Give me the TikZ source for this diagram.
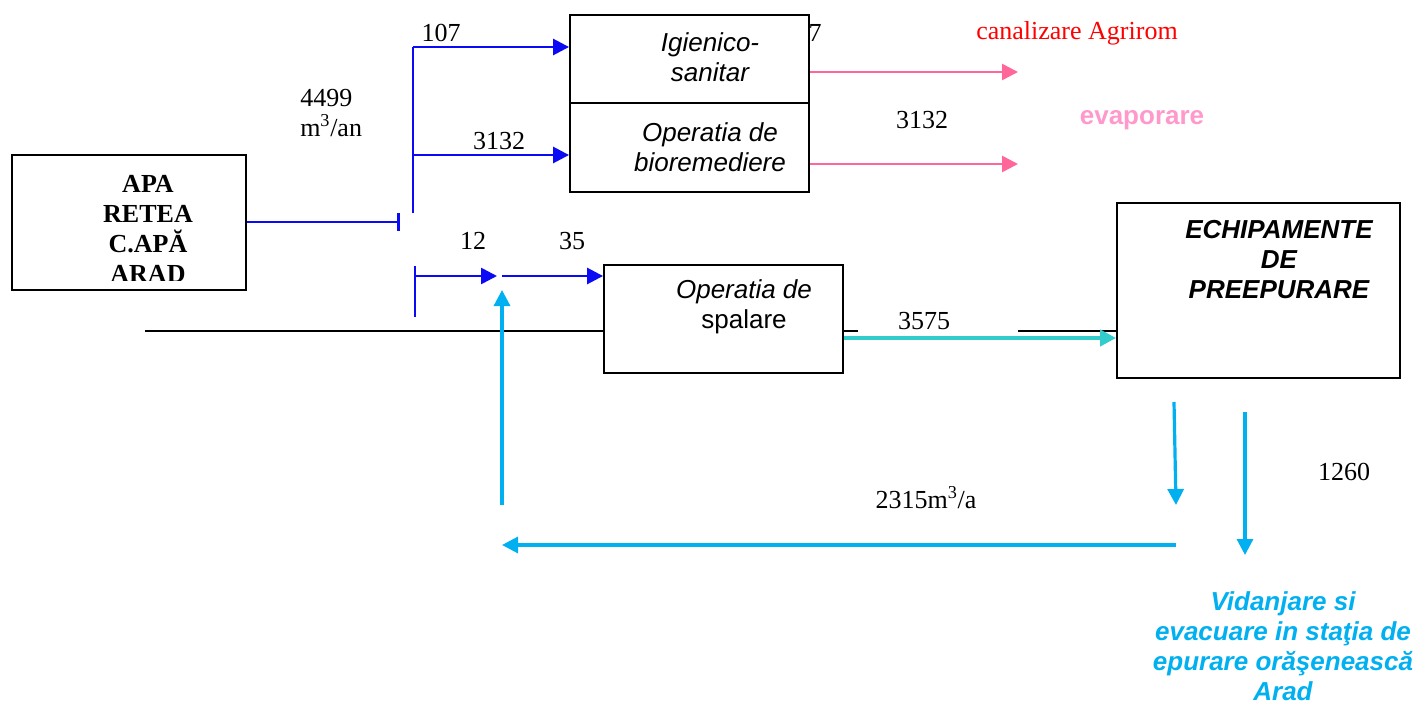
\documentclass[tikz,border=0pt]{standalone}
\usepackage{fontspec}
\setmainfont{Liberation Serif}
\setsansfont{Liberation Sans}
\usetikzlibrary{arrows.meta,positioning,calc}
\definecolor{flowblue}{HTML}{0A0AF5}
\definecolor{flowpink}{HTML}{FF6699}
\definecolor{flowcyan}{HTML}{00B0F0}
\definecolor{flowteal}{HTML}{33CCCC}
\definecolor{softpink}{HTML}{FF99CC}

\begin{document}
\begin{tikzpicture}[x=0.75pt,y=-0.75pt,
  box/.style={draw=black,line width=1.4pt,inner sep=0pt},
  lbl/.style={font=\fontsize{19.5}{22.5}\selectfont,inner sep=0pt},
  txt/.style={font=\sffamily\itshape\fontsize{19.5}{22.5}\selectfont,align=center,inner sep=0pt},
  arr/.style={-{Triangle[length=12pt,width=12pt]},line width=2pt,color=flowblue},
  pink/.style={arr,color=flowpink},
  cyan/.style={arr,line width=2.4pt,color=flowcyan},
  feed/.style={line width=2pt,color=flowblue}]
\path[fill=white] (0,0) rectangle (1421,706);
\node[box,minimum width=175.5pt,minimum height=101.25pt] (apa) at (129,222.5) {};
\node[box,minimum width=179.25pt,minimum height=66pt] (igien) at (689.5,59) {};
\node[box,minimum width=179.25pt,minimum height=66.75pt] (bio) at (689.5,147.5) {};
\node[box,minimum width=179.25pt,minimum height=81pt] (spal) at (723.5,319) {};
\node[box,minimum width=212.25pt,minimum height=131.25pt] (echip) at (1258.5,290.5) {};
\begin{scope}
\clip (12,155) rectangle (246,280);
\node[lbl,font=\bfseries\fontsize{19.5}{22.5}\selectfont,align=center] (apatxt) at (148,229) {APA\\RETEA\\C.APĂ\\ARAD};
\end{scope}
\node[txt] (igientxt) at (710,57) {Igienico-\\sanitar};
\node[txt] (biotxt) at (710,147) {Operatia de\\bioremediere};
\node[txt] (spaltxt) at (744,307) {Operatia de\\\upshape spalare};
\node[txt,font=\sffamily\bfseries\itshape\fontsize{19.5}{22.5}\selectfont] (echiptxt) at (1279,260) {ECHIPAMENTE\\DE\\PREEPURARE};
\node[txt,font=\sffamily\bfseries\itshape\fontsize{19.5}{22.5}\selectfont,color=flowcyan] (vidtxt) at (1283,646) {Vidanjare si\\evacuare in staţia de\\epurare orăşenească\\Arad};
\node[lbl] (q107) at (441,33) {107};
\node[lbl,align=left,anchor=west] (q4499) at (300,113) {4499\\m\textsuperscript{3}/an};
\node[lbl] (q3132a) at (499,141) {3132};
\node[lbl] (q12) at (473,241) {12};
\node[lbl] (q35) at (572,241) {35};
\node[lbl] (q7) at (815,33) {7};
\node[lbl,color=red] (canal) at (1077,33) {canalizare Agrirom};
\node[lbl] (q3132b) at (922,120) {3132};
\node[lbl,font=\sffamily\bfseries\fontsize{19.5}{22.5}\selectfont,color=softpink] (evap) at (1142,120) {evaporare};
\node[lbl] (q3575) at (924,321) {3575};
\node[lbl] (q2315) at (926,498) {2315m\textsuperscript{3}/a};
\node[lbl] (q1260) at (1344,472) {1260};
\coordinate (tee) at (400,222);
\coordinate (up) at (413,47); \coordinate (mid) at (413,155); \coordinate (top) at (413,213);
\coordinate (low) at (415,276); \coordinate (lowend) at (415,317); \coordinate (lowtop) at (415,266);
\coordinate (meet) at (499,276); \coordinate (meet2) at (502,276);
\coordinate (ret) at (502,505); \coordinate (retin) at (502,290); \coordinate (retleft) at (502,545);
\coordinate (retstart) at (1176,545);
\coordinate (down1) at (1174,402); \coordinate (down1e) at (1176,505);
\coordinate (down2) at (1245,412); \coordinate (down2e) at (1245,555);
\coordinate (pinkend1) at (1018,72); \coordinate (pinkend2) at (1018,164);
\coordinate (blk1) at (145,331); \coordinate (blk2) at (858,331); \coordinate (blk3) at (1018,331);
\coordinate (tealrow) at (843,338);
\draw[feed,-{Bar[width=13pt]}] (apa.east |- tee) -- (tee);
\draw[feed] (up) -- (top); \draw[feed] (lowtop) -- (lowend);
\draw[arr] (up) -- (up -| igien.west); \draw[arr] (mid) -- (mid -| bio.west);
\draw[arr] (low) -- ($(meet)+(-2,0)$); \draw[arr] (meet2) -- (meet2 -| spal.west);
\draw[pink] (igien.east |- pinkend1) -- (pinkend1); \draw[pink] (bio.east |- pinkend2) -- (pinkend2);
\draw[line width=1.4pt] (blk1) -- (blk1 -| spal.west); \draw[line width=1.4pt] (blk2 -| spal.east) -- (blk2);
\draw[line width=1.4pt] (blk3) -- (blk3 -| echip.west);
\draw[arr,line width=3pt,color=flowteal] (tealrow -| spal.east) -- (tealrow -| echip.west);
\draw[cyan] (ret) -- (retin); \draw[cyan] (retstart) -- (retleft);
\draw[cyan] (down1) -- (down1e); \draw[cyan] (down2) -- (down2e);
\end{tikzpicture}
\end{document}
